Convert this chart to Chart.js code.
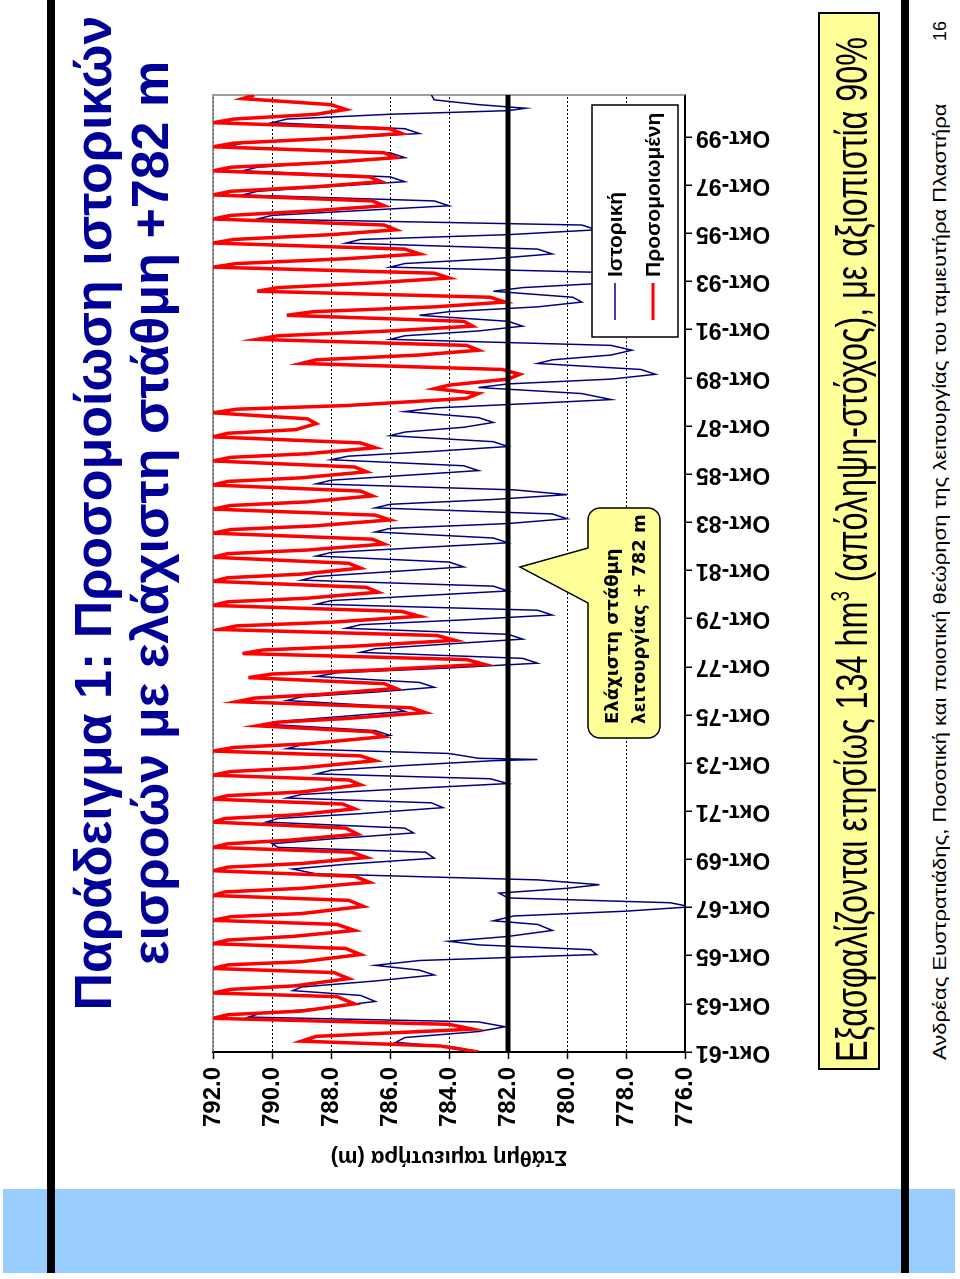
<!DOCTYPE html>
<html>
<head>
<meta charset="utf-8">
<script src="https://cdn.jsdelivr.net/npm/chart.js@4.4.1/dist/chart.umd.min.js"></script>
<style>
body{margin:0;width:960px;height:1279px;overflow:hidden;background:#fff}
#slide{position:absolute;left:0;top:0;width:1279px;height:960px;transform-origin:0 0;transform:translate(0,1279px) rotate(-90deg);background:#fff;font-family:"Liberation Sans",Arial,sans-serif}
.band{position:absolute;left:6px;top:3px;width:84px;height:952px;background:#99ccff}
.rule{position:absolute;left:6px;width:1273px;height:8px;background:#000}
#title{position:absolute;left:201px;top:65px;width:1130px;text-align:center;color:#000099;font-weight:bold;font-size:52px;line-height:57px;white-space:nowrap}
#chart{position:absolute;left:100px;top:190px}
#note{position:absolute;left:209px;top:818px;width:1058px;height:62px;box-sizing:border-box;border:2px solid #000;background:#ffff99;overflow:hidden}
#note span{position:absolute;left:6px;top:7px;font-size:45px;line-height:50px;white-space:nowrap;transform-origin:0 0;display:inline-block}
#note sup{font-size:26px;vertical-align:18px;line-height:0}
#foot{position:absolute;left:219px;top:930px;font-size:18px;line-height:20px;white-space:nowrap;transform-origin:0 0;display:inline-block}
#page{position:absolute;left:1238px;top:930px;font-size:18px;line-height:20px}
</style>
</head>
<body>
<div id="slide">
  <div class="band"></div>
  <div class="rule" style="top:47px"></div>
  <div class="rule" style="top:901px"></div>
  <div id="title">Παράδειγμα 1: Προσομοίωση ιστορικών<br>εισροών με ελάχιστη στάθμη +782 m</div>
  <canvas id="chart" width="1100" height="640"></canvas>
  <div id="note"><span id="noteText">Εξασφαλίζονται ετησίως 134 hm<sup>3</sup> (απόληψη-στόχος), με αξιοπιστία 90%</span></div>
  <div id="foot">Ανδρέας Ευστρατιάδης, Ποσοτική και ποιοτική θεώρηση της λειτουργίας του ταμιευτήρα Πλαστήρα</div>
  <div id="page">16</div>
</div>
<script>
// time axis in years (61.75 = October 1961)
const tickYears = [61.75,63.75,65.75,67.75,69.75,71.75,73.75,75.75,77.75,79.75,81.75,83.75,85.75,87.75,89.75,91.75,93.75,95.75,97.75,99.75];
const tickLabels = ['Οκτ-61','Οκτ-63','Οκτ-65','Οκτ-67','Οκτ-69','Οκτ-71','Οκτ-73','Οκτ-75','Οκτ-77','Οκτ-79','Οκτ-81','Οκτ-83','Οκτ-85','Οκτ-87','Οκτ-89','Οκτ-91','Οκτ-93','Οκτ-95','Οκτ-97','Οκτ-99'];
const levelTicks = [776,778,780,782,784,786,788,790,792];
const minLevel = 782;
const lastYear = 101.5;

// simulated level (m)
const simYear = [61.75,62.0,62.2,62.4,62.7,62.9,63.15,63.3,63.45,63.75,
64.05,64.2,64.35,64.5,64.8,65.05,65.22,65.37,65.5,65.8,
66.05,66.25,66.4,66.55,66.8,67.05,67.22,67.37,67.5,67.8,
68.05,68.25,68.4,68.55,68.8,69.05,69.28,69.43,69.58,69.83,
70.05,70.25,70.4,70.55,70.8,71.05,71.3,71.45,71.6,71.85,
72.05,72.25,72.4,72.55,72.85,73.05,73.25,73.4,73.55,73.85,
74.05,74.25,74.4,74.55,74.85,75.05,75.3,75.45,75.6,75.85,
76.05,76.3,76.45,76.6,76.85,77.05,77.3,77.45,77.6,77.85,
78.05,78.3,78.45,78.6,78.85,79.05,79.3,79.45,79.6,79.85,
80.05,80.3,80.45,80.6,80.85,81.05,81.3,81.45,81.6,81.85,
82.05,82.3,82.45,82.6,82.85,83.05,83.3,83.45,83.6,83.85,
84.05,84.3,84.45,84.6,84.85,85.05,85.3,85.45,85.6,85.85,
86.05,86.3,86.45,86.6,86.85,87.05,87.3,87.45,87.6,87.85,
88.05,88.3,88.45,88.6,88.9,89.1,89.3,89.45,89.7,89.9,
90.1,90.35,90.5,90.7,90.9,91.1,91.35,91.5,91.7,91.9,
92.1,92.35,92.5,92.7,92.9,93.1,93.35,93.5,93.7,93.9,
94.1,94.35,94.5,94.7,94.9,95.1,95.35,95.5,95.7,95.9,
96.1,96.35,96.5,96.7,96.9,97.1,97.35,97.5,97.7,97.9,
98.1,98.35,98.5,98.7,98.9,99.1,99.35,99.5,99.7,99.9,
100.1,100.35,100.5,100.7,100.9,101.1,101.35,101.5];
const simLevel = [783.0,784.3,789.0,788.5,783.2,784.0,792.0,791.5,789.0,787.2,
787.8,792.0,791.4,789.2,787.4,787.9,792.0,791.5,789.0,787.0,
787.5,792.0,791.5,789.3,787.2,787.8,792.0,791.4,789.0,786.9,
787.4,792.0,791.6,789.0,786.7,787.2,792.0,791.5,789.0,786.8,
787.3,792.0,791.5,789.4,787.1,787.5,792.0,791.6,789.2,787.2,
787.6,792.0,791.5,789.0,787.0,787.4,792.0,791.4,789.0,786.5,
787.0,792.0,791.3,788.8,786.2,786.6,790.5,789.8,787.5,784.8,
785.3,791.2,790.6,788.4,785.8,786.2,790.8,790.0,786.8,782.8,
783.4,791.0,790.3,787.3,783.8,784.4,791.8,791.2,788.0,785.0,
785.6,792.0,791.5,788.8,786.4,786.8,792.0,791.5,789.0,787.0,
787.4,792.0,791.5,788.8,786.2,786.6,792.0,791.4,788.6,786.0,
786.5,792.0,791.4,788.8,786.6,787.0,792.0,791.5,789.0,786.8,
787.2,792.0,791.4,788.8,786.5,787.0,792.0,791.5,789.2,788.5,
788.8,792.0,791.2,787.5,783.4,783.0,784.5,784.0,782.0,781.6,
782.2,789.0,788.5,785.0,783.0,783.4,790.5,789.8,786.0,783.2,
783.5,789.5,788.6,784.5,782.1,782.6,790.5,789.8,786.5,784.0,
784.5,792.0,791.2,787.5,785.0,785.5,792.0,791.3,788.0,785.8,
786.2,792.0,791.4,788.5,786.2,786.6,792.0,791.4,788.4,786.3,
786.7,792.0,791.4,788.0,785.8,786.2,792.0,791.3,788.0,785.6,
786.0,792.0,791.3,788.5,787.5,788.0,791.0,790.6];

// historical level (m)
const histYear = [61.75,61.95,62.15,62.35,62.6,62.8,63.0,63.2,63.35,63.55,63.85,
64.1,64.3,64.45,64.7,64.95,65.15,65.35,65.55,65.8,66.0,
66.2,66.35,66.55,66.8,67.05,67.2,67.4,67.6,67.78,67.95,
68.15,68.35,68.55,68.7,68.9,69.15,69.35,69.55,69.8,70.05,
70.25,70.4,70.6,70.85,71.05,71.3,71.45,71.65,71.9,72.1,
72.3,72.45,72.65,72.9,73.1,73.3,73.45,73.65,73.85,73.9,73.95,74.15,
74.35,74.5,74.7,74.9,75.1,75.35,75.5,75.7,75.9,76.1,
76.35,76.5,76.7,76.9,77.1,77.35,77.5,77.7,77.9,78.1,
78.35,78.5,78.7,78.9,79.1,79.35,79.5,79.7,79.9,80.1,
80.35,80.5,80.7,80.9,81.1,81.35,81.5,81.7,81.9,82.1,
82.35,82.5,82.7,82.9,83.1,83.35,83.5,83.7,83.9,84.1,
84.35,84.5,84.7,84.9,85.1,85.35,85.5,85.7,85.9,86.1,
86.35,86.5,86.7,86.9,87.1,87.35,87.5,87.7,87.9,88.1,
88.35,88.5,88.7,88.85,89.1,89.35,89.5,89.7,89.9,90.1,
90.35,90.5,90.7,90.9,91.1,91.35,91.5,91.7,91.9,92.1,
92.35,92.5,92.7,92.9,93.1,93.35,93.5,93.7,93.9,94.1,
94.35,94.5,94.7,94.9,95.1,95.35,95.5,95.7,95.9,96.1,
96.35,96.5,96.7,96.9,97.1,97.35,97.5,97.7,97.9,98.1,
98.35,98.5,98.7,98.9,99.1,99.35,99.5,99.7,99.9,100.1,
100.35,100.5,100.7,100.85,100.95,101.1,101.3,101.5];
const histLevel = [783.0,783.8,785.8,785.5,783.0,782.1,783.0,790.8,790.4,788.5,786.5,
787.0,789.3,789.0,786.5,784.5,785.0,786.5,785.0,779.0,779.2,
783.0,784.0,782.0,780.5,781.0,782.5,781.8,778.0,775.8,776.5,
782.0,782.3,780.0,778.9,781.0,788.5,789.3,787.5,784.5,784.8,
789.8,790.0,788.0,785.2,785.5,790.2,789.8,787.0,784.2,784.6,
789.5,789.0,786.0,782.0,782.6,788.5,788.0,785.5,782.5,781.0,783.0,784.0,
789.5,789.0,787.5,786.0,786.5,790.0,789.6,787.5,785.5,786.0,
789.5,789.0,786.5,784.5,785.0,788.5,787.8,784.0,781.0,781.5,
787.0,786.5,784.0,781.5,782.0,787.5,787.0,783.5,780.5,781.0,
788.5,788.0,785.0,782.0,782.5,789.0,788.5,786.0,783.5,784.0,
788.5,788.0,785.0,782.0,782.5,786.5,786.0,782.0,780.0,780.5,
786.5,786.0,782.5,780.0,781.8,788.5,788.0,785.5,783.0,783.5,
788.0,787.4,784.5,782.0,782.5,786.0,785.5,783.5,782.5,783.0,
785.5,784.5,781.0,778.5,779.5,783.0,782.0,778.5,777.0,777.5,
781.0,780.5,778.5,777.8,778.5,786.0,785.5,783.0,781.5,782.0,
785.0,784.0,781.0,779.5,779.8,782.5,781.5,778.5,777.0,777.8,
786.0,785.5,782.5,780.5,781.0,787.5,787.0,782.0,779.0,779.5,
790.5,790.0,787.0,784.0,784.5,791.0,790.5,788.0,785.5,786.0,
791.0,790.5,788.0,785.5,786.0,791.5,791.0,788.0,785.0,785.5,
790.0,789.5,786.0,782.0,781.4,783.0,784.5,784.6];

const toPoints = (xs, ys) => xs.map((x, i) => ({x: x, y: ys[i]}));

// grey frame on top/right of the plot area
const frame = {
  id: 'frame',
  beforeDatasetsDraw(chart) {
    const {ctx, chartArea: a} = chart;
    ctx.save();
    ctx.strokeStyle = '#808080';
    ctx.lineWidth = 1.5;
    ctx.beginPath();
    ctx.moveTo(a.left, a.top);
    ctx.lineTo(a.right, a.top);
    ctx.lineTo(a.right, a.bottom);
    ctx.stroke();
    ctx.restore();
  }
};

// callout + legend box
const notes = {
  id: 'notes',
  afterDraw(chart) {
    const {ctx, chartArea: a, scales} = chart;
    const yMin = scales.y.getPixelForValue(minLevel);
    ctx.save();
    // callout
    const bx = a.left + 314, by = a.top + 375, bw = 230, bh = 72, r = 12;
    ctx.beginPath();
    ctx.moveTo(bx + r, by);
    ctx.lineTo(bx + 135, by);
    ctx.lineTo(bx + 171, yMin + 12);
    ctx.lineTo(bx + 190, by);
    ctx.lineTo(bx + bw - r, by);
    ctx.arcTo(bx + bw, by, bx + bw, by + r, r);
    ctx.lineTo(bx + bw, by + bh - r);
    ctx.arcTo(bx + bw, by + bh, bx + bw - r, by + bh, r);
    ctx.lineTo(bx + r, by + bh);
    ctx.arcTo(bx, by + bh, bx, by + bh - r, r);
    ctx.lineTo(bx, by + r);
    ctx.arcTo(bx, by, bx + r, by, r);
    ctx.closePath();
    ctx.fillStyle = '#ffff99';
    ctx.fill();
    ctx.strokeStyle = '#000';
    ctx.lineWidth = 1.5;
    ctx.stroke();
    ctx.fillStyle = '#000';
    ctx.font = 'bold 18px "DejaVu Sans", Verdana, sans-serif';
    ctx.textBaseline = 'alphabetic';
    ctx.fillText('Ελάχιστη στάθμη', bx + 14, by + 30);
    ctx.fillText('λειτουργίας + 782 m', bx + 14, by + 57);

    // legend
    const lx = a.right - 242, ly = a.top + 379, lw = 232, lh = 86;
    ctx.fillStyle = '#fff';
    ctx.fillRect(lx, ly, lw, lh);
    ctx.strokeStyle = '#000';
    ctx.lineWidth = 1.5;
    ctx.strokeRect(lx, ly, lw, lh);
    const items = [['Ιστορική', '#000080', 1.5, 23], ['Προσομοιωμένη', '#ff0000', 3, 61]];
    ctx.font = 'bold 21px "Liberation Sans", Arial, sans-serif';
    ctx.textBaseline = 'middle';
    items.forEach(([txt, col, w, dy]) => {
      ctx.strokeStyle = col;
      ctx.lineWidth = w;
      ctx.beginPath();
      ctx.moveTo(lx + 17, ly + dy);
      ctx.lineTo(lx + 54, ly + dy);
      ctx.stroke();
      ctx.fillStyle = '#000';
      ctx.fillText(txt, lx + 60, ly + dy + 1);
    });
    ctx.restore();
  }
};

new Chart(document.getElementById('chart'), {
  type: 'line',
  data: {
    datasets: [
      {
        label: 'Ελάχιστη στάθμη',
        data: [{x: tickYears[0], y: minLevel}, {x: lastYear, y: minLevel}],
        borderColor: '#000',
        borderWidth: 5,
        pointRadius: 0
      },
      {
        label: 'Προσομοιωμένη',
        data: toPoints(simYear, simLevel),
        borderColor: '#ff0000',
        borderWidth: 3.5,
        pointRadius: 0,
        tension: 0
      },
      {
        label: 'Ιστορική',
        data: toPoints(histYear, histLevel),
        borderColor: '#000080',
        borderWidth: 1.5,
        pointRadius: 0,
        tension: 0
      }
    ]
  },
  options: {
    responsive: false,
    animation: false,
    events: [],
    layout: {padding: {left: 0, right: 16, top: 23, bottom: 0}},
    plugins: {
      legend: {display: false},
      tooltip: {enabled: false}
    },
    scales: {
      x: {
        type: 'linear',
        min: tickYears[0],
        max: lastYear,
        afterBuildTicks: (axis) => { axis.ticks = tickYears.map(v => ({value: v})); },
        afterFit: (axis) => { axis.height = 145; },
        ticks: {
          autoSkip: false,
          minRotation: 90,
          maxRotation: 90,
          padding: 4,
          color: '#000',
          font: {family: '"Liberation Sans", Arial, sans-serif', weight: 'bold', size: 23},
          callback: (v, i) => tickLabels[i]
        },
        grid: {drawOnChartArea: false, drawTicks: true, tickLength: 7, color: '#000', lineWidth: 1.5},
        border: {color: '#000', width: 2}
      },
      y: {
        min: 776,
        max: 792,
        afterBuildTicks: (axis) => { axis.ticks = levelTicks.map(v => ({value: v})); },
        afterFit: (axis) => { axis.width = 127; },
        ticks: {
          padding: 8,
          color: '#000',
          font: {family: '"Liberation Sans", Arial, sans-serif', weight: 'bold', size: 24},
          callback: (v) => v.toFixed(1)
        },
        grid: {color: '#000', lineWidth: 1, tickLength: 7, tickColor: '#000', tickWidth: 1.5},
        border: {color: '#000', width: 2, dash: [2, 2]},
        title: {
          display: true,
          text: 'Στάθμη ταμιευτήρα (m)',
          color: '#000',
          font: {family: '"Liberation Sans", Arial, sans-serif', weight: 'bold', size: 22},
          padding: {top: 9, bottom: 0}
        }
      }
    }
  },
  plugins: [frame, notes]
});

// squeeze the long text lines to the widths they have on the slide
function fitWidth(el, target) {
  const w = el.offsetWidth;
  el.style.transform = 'scaleX(' + (target / w) + ')';
}
fitWidth(document.getElementById('noteText'), 1025);
fitWidth(document.getElementById('foot'), 957);
</script>
</body>
</html>
